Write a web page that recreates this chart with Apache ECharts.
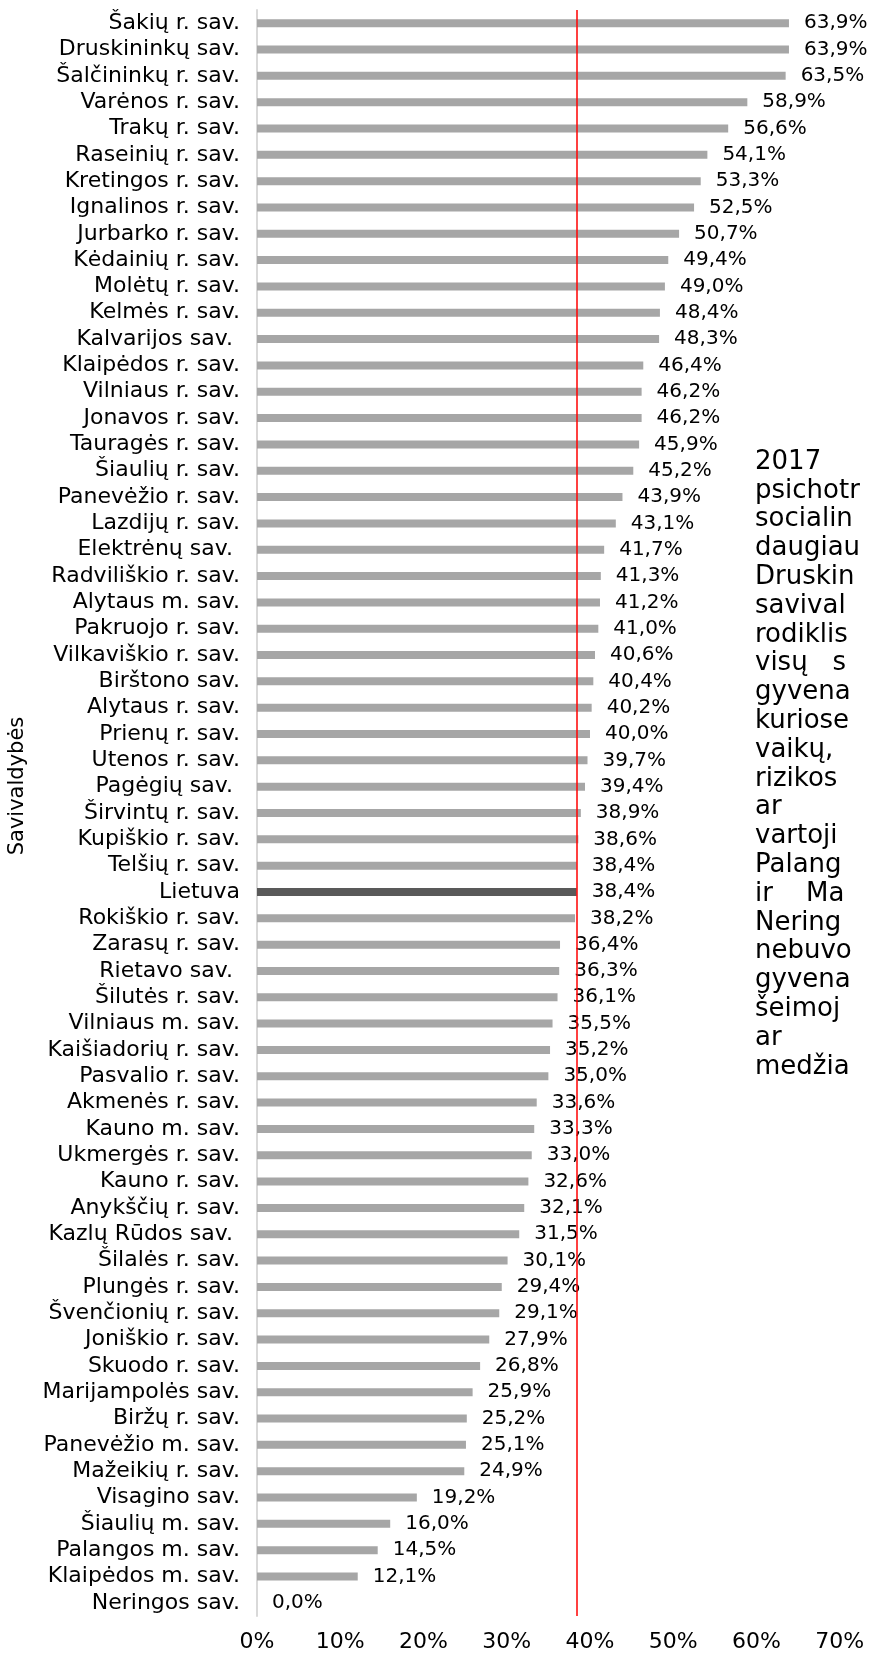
<!DOCTYPE html>
<html>
<head>
<meta charset="utf-8">
<script src="https://cdn.jsdelivr.net/npm/echarts@6/dist/echarts.min.js"></script>
<style>
  html, body { margin: 0; padding: 0; background: #fff; }
  #chart { width: 869px; height: 1653px; }
</style>
</head>
<body>
<div id="chart"></div>
<script>
// savivaldybės (iš viršaus į apačią)
const categories = [
  'Šakių r. sav.', 'Druskininkų sav.', 'Šalčininkų r. sav.', 'Varėnos r. sav.',
  'Trakų r. sav.', 'Raseinių r. sav.', 'Kretingos r. sav.', 'Ignalinos r. sav.',
  'Jurbarko r. sav.', 'Kėdainių r. sav.', 'Molėtų r. sav.', 'Kelmės r. sav.',
  'Kalvarijos sav. ', 'Klaipėdos r. sav.', 'Vilniaus r. sav.', 'Jonavos r. sav.',
  'Tauragės r. sav.', 'Šiaulių r. sav.', 'Panevėžio r. sav.', 'Lazdijų r. sav.',
  'Elektrėnų sav. ', 'Radviliškio r. sav.', 'Alytaus m. sav.', 'Pakruojo r. sav.',
  'Vilkaviškio r. sav.', 'Birštono sav.', 'Alytaus r. sav.', 'Prienų r. sav.',
  'Utenos r. sav.', 'Pagėgių sav. ', 'Širvintų r. sav.', 'Kupiškio r. sav.',
  'Telšių r. sav.', 'Lietuva', 'Rokiškio r. sav.', 'Zarasų r. sav.',
  'Rietavo sav. ', 'Šilutės r. sav.', 'Vilniaus m. sav.', 'Kaišiadorių r. sav.',
  'Pasvalio r. sav.', 'Akmenės r. sav.', 'Kauno m. sav.', 'Ukmergės r. sav.',
  'Kauno r. sav.', 'Anykščių r. sav.', 'Kazlų Rūdos sav. ', 'Šilalės r. sav.',
  'Plungės r. sav.', 'Švenčionių r. sav.', 'Joniškio r. sav.', 'Skuodo r. sav.',
  'Marijampolės sav.', 'Biržų r. sav.', 'Panevėžio m. sav.', 'Mažeikių r. sav.',
  'Visagino sav.', 'Šiaulių m. sav.', 'Palangos m. sav.', 'Klaipėdos m. sav.',
  'Neringos sav.'
];

const values = [
  63.9, 63.9, 63.5, 58.9, 56.6, 54.1, 53.3, 52.5, 50.7, 49.4, 49.0, 48.4,
  48.3, 46.4, 46.2, 46.2, 45.9, 45.2, 43.9, 43.1, 41.7, 41.3, 41.2, 41.0,
  40.6, 40.4, 40.2, 40.0, 39.7, 39.4, 38.9, 38.6, 38.4, 38.4, 38.2, 36.4,
  36.3, 36.1, 35.5, 35.2, 35.0, 33.6, 33.3, 33.0, 32.6, 32.1, 31.5, 30.1,
  29.4, 29.1, 27.9, 26.8, 25.9, 25.2, 25.1, 24.9, 19.2, 16.0, 14.5, 12.1,
  0.0
];

const lietuvaValue = 38.4;
const xTicks = { min: 0, max: 70, interval: 10 };

// tekstas dešinėje (nukirptas paveikslo krašte)
const noteLines = [
  '2017', 'psichotr', 'socialin', 'daugiau', 'Druskin', 'savival', 'rodiklis',
  'visų   s', 'gyvena', 'kuriose', 'vaikų,', 'rizikos', 'ar', 'vartoji',
  'Palang', 'ir    Ma', 'Nering', 'nebuvo', 'gyvena', 'šeimoj', 'ar', 'medžia'
];

const FONT = 'DejaVu Sans';

const chart = echarts.init(document.getElementById('chart'));

const noteGraphics = noteLines.map((t, i) => ({
  type: 'text',
  left: 755,
  top: 449 + i * 28.8,
  style: { text: t, font: '26px "' + FONT + '"', fill: '#000' }
}));

// ašies pavadinimas (pasuktas)
noteGraphics.push({
  type: 'text',
  x: 18,
  y: 786,
  rotation: Math.PI / 2,
  style: {
    text: 'Savivaldybės',
    font: '21px "' + FONT + '"',
    fill: '#000',
    align: 'center',
    verticalAlign: 'middle'
  }
});

const option = {
  animation: false,
  textStyle: { fontFamily: FONT },
  grid: { left: 257, top: 10, width: 582.75, height: 1606 },
  xAxis: {
    type: 'value',
    min: xTicks.min,
    max: xTicks.max,
    interval: xTicks.interval,
    axisLine: { show: false },
    axisTick: { show: false },
    splitLine: { show: false },
    axisLabel: {
      formatter: '{value}%',
      color: '#000',
      fontSize: 22,
      margin: 15,
      fontFamily: FONT
    }
  },
  yAxis: {
    type: 'category',
    inverse: true,
    data: categories,
    axisLine: { show: true, lineStyle: { color: '#d9d9d9', width: 2 } },
    axisTick: { show: false },
    axisLabel: {
      interval: 0,
      hideOverlap: false,
      color: '#000',
      fontSize: 22,
      lineHeight: 24,
      margin: 17,
      fontFamily: FONT
    }
  },
  series: [{
    type: 'bar',
    barWidth: 8,
    data: values.map((v, i) => ({
      value: v,
      itemStyle: { color: categories[i] === 'Lietuva' ? '#595959' : '#a6a6a6' }
    })),
    label: {
      show: true,
      position: 'right',
      distance: 15,
      color: '#000',
      fontSize: 20,
      fontFamily: FONT,
      formatter: p => p.value.toFixed(1).replace('.', ',') + '%'
    },
    markLine: {
      silent: true,
      symbol: 'none',
      label: { show: false },
      lineStyle: { color: '#ff0000', width: 1.5, type: 'solid' },
      data: [{ xAxis: lietuvaValue }]
    }
  }],
  graphic: noteGraphics
};

chart.setOption(option);
</script>
</body>
</html>
